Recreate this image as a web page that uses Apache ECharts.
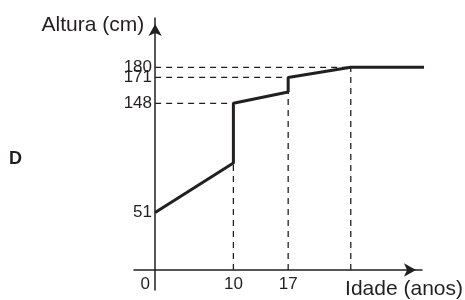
<!DOCTYPE html>
<html>
<head>
<meta charset="utf-8">
<script src="https://cdn.jsdelivr.net/npm/echarts@6/dist/echarts.min.js"></script>
<style>
  html, body { margin: 0; padding: 0; background: #fff; }
  #chart { width: 465px; height: 300px; }
</style>
</head>
<body>
<div id="chart"></div>
<script>
// idade (anos) e altura (cm)
const ages = [0, 10, 10, 17, 17, 25, 35.5]
const heights = [51, 95, 148, 158, 171, 180, 180]
const yTicks = [51, 148, 171]
const yTopTick = [180]
const xTicks = [0, 10, 17]
const guideAges = [10, 17, 25]

const ink = '#231f20'
const font = '"Liberation Sans", Arial, sans-serif'

const chart = echarts.init(document.getElementById('chart'))

const curve = ages.map((a, i) => [a, heights[i]])

// linhas tracejadas de referência
const guides = []
yTicks.slice(1).concat(yTopTick).forEach(h => {
  const i = heights.indexOf(h)
  guides.push([[0, h], [ages[i], h]])
})
guideAges.forEach(a => {
  const hs = heights.filter((h, i) => ages[i] === a)
  guides.push([[a, 0], [a, Math.min(...hs)]])
})

const guideSeries = guides.map(g => ({
  type: 'line',
  data: g,
  showSymbol: false,
  silent: true,
  lineStyle: { color: ink, width: 1.3, type: [6, 5] }
}))

const yLabel = values => ({
  customValues: values,
  hideOverlap: false,
  color: ink,
  fontFamily: font,
  fontSize: 17,
  margin: -18
})

const option = {
  animation: false,
  textStyle: { fontFamily: font, color: ink },
  title: {
    text: 'D',
    left: 9,
    top: 150,
    padding: 0,
    textStyle: { color: ink, fontFamily: font, fontWeight: 'bold', fontSize: 18 }
  },
  grid: { left: 134, right: 43, top: 18, bottom: 10, outerBoundsMode: 'none' },
  xAxis: {
    type: 'value',
    min: -2.7,
    max: 34.1,
    name: 'Idade (anos)',
    nameLocation: 'end',
    nameGap: 41,
    nameTextStyle: {
      color: ink, fontFamily: font, fontSize: 21,
      align: 'right', verticalAlign: 'top', padding: [9, 0, 0, 0]
    },
    axisLine: {
      onZero: true,
      symbol: ['none', 'arrow'],
      symbolSize: [10, 12],
      symbolOffset: [0, -6],
      lineStyle: { color: ink, width: 1.5 }
    },
    axisTick: { show: false },
    splitLine: { show: false },
    axisLabel: {
      customValues: xTicks,
      hideOverlap: false,
      color: ink,
      fontFamily: font,
      fontSize: 17,
      margin: -14,
      formatter: v => (v === 0 ? '{z|0}' : String(v)),
      rich: { z: { padding: [0, 20, 0, 0], fontSize: 17, fontFamily: font, color: ink } }
    }
  },
  yAxis: [
    {
      type: 'value',
      min: -17.8,
      max: 223.8,
      name: 'Altura (cm)',
      nameLocation: 'end',
      nameGap: -7,
      nameTextStyle: {
        color: ink, fontFamily: font, fontSize: 21,
        align: 'right', verticalAlign: 'middle', padding: [0, 11, 0, 0]
      },
      axisLine: {
        onZero: true,
        symbol: ['none', 'arrow'],
        symbolSize: [10, 12],
        symbolOffset: [0, -6],
        lineStyle: { color: ink, width: 1.5 }
      },
      axisTick: { show: false },
      splitLine: { show: false },
      axisLabel: yLabel(yTicks)
    },
    {
      type: 'value',
      min: -17.8,
      max: 223.8,
      position: 'left',
      offset: 0,
      axisLine: { show: false },
      axisTick: { show: false },
      splitLine: { show: false },
      axisLabel: yLabel(yTopTick)
    }
  ],
  series: [
    ...guideSeries,
    {
      type: 'line',
      data: curve,
      showSymbol: false,
      clip: false,
      lineStyle: { color: ink, width: 3 }
    }
  ]
}

chart.setOption(option)
</script>
</body>
</html>
